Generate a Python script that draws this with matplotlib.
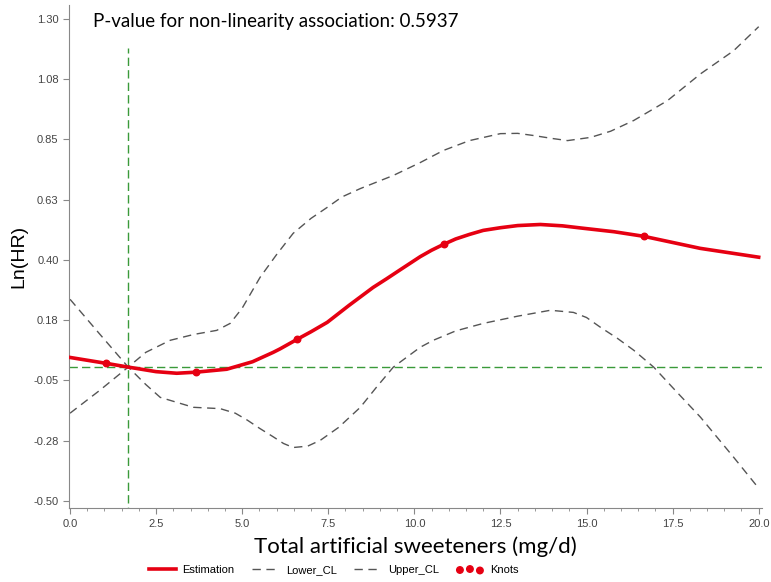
import matplotlib
matplotlib.use("Agg")
import matplotlib.pyplot as plt
from matplotlib.ticker import MultipleLocator

# spline estimate
est_x = [0, 1.05, 1.69, 2.5, 3.1, 3.65, 4.55, 5.3, 5.9, 6.1, 6.6, 7.0, 7.47, 8.1, 8.8,
         9.2, 9.6, 10.17, 10.5, 10.85, 11.2, 11.6, 12.0, 12.5, 13.0, 13.66, 14.3, 14.9,
         15.8, 16.66, 18.3, 20.0]
est_y = [0.036, 0.014, 0.0, -0.017, -0.023, -0.019, -0.008, 0.02, 0.055, 0.068, 0.104,
         0.132, 0.167, 0.23, 0.297, 0.33, 0.364, 0.412, 0.436, 0.458, 0.478, 0.495, 0.51,
         0.52, 0.528, 0.532, 0.527, 0.518, 0.505, 0.488, 0.443, 0.41]

lower_x = [0, 0.85, 1.69, 2.2, 2.62, 3.58, 4.36, 4.8, 5.15, 5.5, 5.9, 6.2, 6.48, 6.9,
           7.27, 7.8, 8.43, 8.9, 9.39, 10.17, 10.55, 11.2, 12.0, 13.0, 13.95, 14.62,
           15.0, 15.41, 15.9, 16.37, 16.95, 17.6, 18.31, 19.27, 20.0]
lower_y = [-0.172, -0.088, 0.0, -0.065, -0.113, -0.15, -0.155, -0.172, -0.198, -0.228,
           -0.26, -0.285, -0.30, -0.295, -0.273, -0.225, -0.15, -0.075, 0.0, 0.074, 0.10,
           0.135, 0.163, 0.19, 0.212, 0.204, 0.185, 0.148, 0.107, 0.063, 0.0, -0.09,
           -0.187, -0.336, -0.452]

upper_x = [0, 0.85, 1.69, 2.2, 2.91, 3.6, 4.26, 4.65, 5.0, 5.52, 6.0, 6.48, 7.0, 7.47,
           7.9, 8.43, 9.39, 10.17, 10.84, 11.6, 12.5, 13.0, 13.46, 14.0, 14.45, 15.12,
           15.7, 16.37, 17.35, 18.31, 19.27, 20.0]
upper_y = [0.253, 0.125, 0.0, 0.055, 0.10, 0.122, 0.137, 0.163, 0.22, 0.335, 0.42, 0.499,
           0.555, 0.596, 0.635, 0.666, 0.715, 0.763, 0.808, 0.845, 0.871, 0.872, 0.864,
           0.853, 0.845, 0.857, 0.88, 0.92, 0.994, 1.094, 1.18, 1.27]

knot_x = [1.05, 3.65, 6.6, 10.85, 16.66]
knot_y = [0.014, -0.019, 0.104, 0.458, 0.488]

ref_x = 1.69
ref_top = 1.19

yticks = [-0.5 + 0.225 * i for i in range(9)]
ytick_labels = ['-0.50', '-0.28', '-0.05', '0.18', '0.40', '0.63', '0.85', '1.08', '1.30']
xticks = [0, 2.5, 5, 7.5, 10, 12.5, 15, 17.5, 20]

fig = plt.figure(figsize=(7.71, 5.82), dpi=100)
ax = fig.add_axes([0.0895, 0.127, 0.899, 0.864])

red = '#e60012'
grey = '#555555'
green = '#3a9a3a'

ax.axhline(0, color=green, lw=1, dashes=(6, 3))
ax.vlines(ref_x, -0.6, ref_top, color=green, lw=1, linestyles=(0, (6, 3)))

l1, = ax.plot(est_x, est_y, color=red, lw=2.6, label='Estimation', zorder=4)
l2, = ax.plot(lower_x, lower_y, color=grey, lw=1, dashes=(6, 4), label='Lower_CL')
l3, = ax.plot(upper_x, upper_y, color=grey, lw=1, dashes=(6, 4), label='Upper_CL')
sc = ax.scatter(knot_x, knot_y, s=22, color=red, zorder=5, label='Knots')

ax.set_xlim(-0.03, 20.1)
ax.set_ylim(-0.526, 1.35)
ax.set_xticks(xticks)
ax.set_xticklabels([f'{v:.1f}' for v in xticks])
ax.xaxis.set_minor_locator(MultipleLocator(0.5))
ax.set_yticks(yticks)
ax.set_yticklabels(ytick_labels)

for s in ['top', 'right']:
    ax.spines[s].set_visible(False)
for s in ['left', 'bottom']:
    ax.spines[s].set_color('#888888')
    ax.spines[s].set_linewidth(0.8)
ax.tick_params(axis='both', which='both', color='#888888', labelsize=8,
               labelcolor='#444444', direction='out')
ax.tick_params(axis='both', which='major', length=4)
ax.tick_params(axis='x', which='minor', length=2.5)
for lab in ax.get_xticklabels() + ax.get_yticklabels():
    lab.set_family('Liberation Sans')

ax.set_xlabel('Total artificial sweeteners (mg/d)', fontsize=16, family='Lato', labelpad=6)
ax.set_ylabel('Ln(HR)', fontsize=14, family='Liberation Sans', labelpad=4)

ax.text(0.035, 0.985, 'P-value for non-linearity association: 0.5937', transform=ax.transAxes,
        fontsize=13.5, family='Lato', va='top', ha='left')

fig.legend(handles=[l1, l2, l3, sc], loc='lower center', bbox_to_anchor=(0.433, -0.005),
           ncol=4, frameon=False, handlelength=2.4, scatterpoints=3, handletextpad=0.6,
           columnspacing=1.6, prop={'family': 'Liberation Sans', 'size': 8})

fig.savefig('out.png', dpi=100)
